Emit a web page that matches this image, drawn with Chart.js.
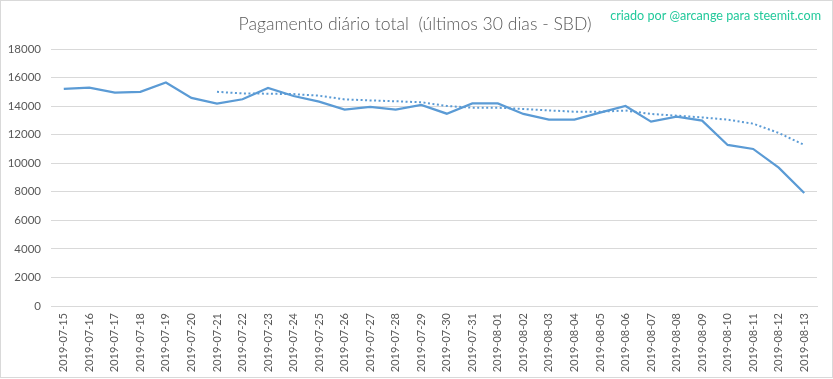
<!DOCTYPE html>
<html>
<head>
<meta charset="utf-8">
<script src="https://cdn.jsdelivr.net/npm/chart.js@4/dist/chart.umd.min.js"></script>
<style>
html,body{margin:0;padding:0;background:#fff;}
#wrap{position:relative;width:833px;height:379px;}
canvas{display:block;}
</style>
</head>
<body>
<div id="wrap"><canvas id="c" width="833" height="379"></canvas></div>
<script>
const categories = ["2019-07-15","2019-07-16","2019-07-17","2019-07-18","2019-07-19","2019-07-20","2019-07-21","2019-07-22","2019-07-23","2019-07-24","2019-07-25","2019-07-26","2019-07-27","2019-07-28","2019-07-29","2019-07-30","2019-07-31","2019-08-01","2019-08-02","2019-08-03","2019-08-04","2019-08-05","2019-08-06","2019-08-07","2019-08-08","2019-08-09","2019-08-10","2019-08-11","2019-08-12","2019-08-13"];
const dailyPayout = [15200,15300,14940,15000,15650,14570,14170,14480,15270,14710,14310,13750,13940,13750,14080,13470,14190,14190,13450,13050,13050,13540,14010,12910,13260,12980,11280,11000,9690,7910];
const movingAverage = [null,null,null,null,null,null,15000,14890,14870,14840,14730,14470,14400,14340,14270,14010,13890,13890,13800,13700,13610,13610,13690,13450,13330,13210,13050,12770,12120,11280];
const yTicks = [0,2000,4000,6000,8000,10000,12000,14000,16000,18000];
const titleText = "Pagamento diário total  (últimos 30 dias - SBD)";
const creditText = "criado por @arcange para steemit.com";

const textPlugin = {
  id: 'texts',
  afterDraw(chart) {
    const ctx = chart.ctx;
    ctx.save();
    ctx.fillStyle = '#595959';
    ctx.font = '300 17.6px Lato';
    ctx.textAlign = 'center';
    ctx.textBaseline = 'middle';
    ctx.fillText(titleText, 415, 24);
    ctx.fillStyle = '#22C99B';
    ctx.font = '12.6px Lato';
    ctx.textAlign = 'right';
    ctx.fillText(creditText, 821, 16);
    ctx.strokeStyle = '#D9D9D9';
    ctx.lineWidth = 1;
    ctx.strokeRect(0.5, 0.5, 832, 377);
    ctx.restore();
  }
};

new Chart(document.getElementById('c'), {
  type: 'line',
  data: {
    labels: categories,
    datasets: [
      {data: dailyPayout, borderColor: '#5B9BD5', borderWidth: 2.25, pointRadius: 0, tension: 0, fill: false},
      {data: movingAverage, borderColor: '#5B9BD5', borderWidth: 2, borderDash: [2, 2.5], pointRadius: 0, tension: 0, fill: false, spanGaps: false}
    ]
  },
  options: {
    responsive: false,
    animation: false,
    devicePixelRatio: 1,
    layout: {padding: {left: 0, right: 16, top: 49, bottom: 0}},
    plugins: {legend: {display: false}, title: {display: false}, tooltip: {enabled: false}},
    scales: {
      x: {
        offset: true,
        grid: {display: false, drawTicks: false},
        border: {display: true, color: '#D9D9D9'},
        ticks: {autoSkip: false, maxRotation: 90, minRotation: 90, padding: 7, color: '#595959', font: {family: 'Lato', size: 11}},
        afterFit(s) { s.height = 73; }
      },
      y: {
        min: 0, max: 18000,
        afterBuildTicks(s) { s.ticks = yTicks.map(v => ({value: v})); },
        grid: {color: '#D9D9D9', drawTicks: false},
        border: {display: false},
        ticks: {padding: 10, color: '#595959', font: {family: 'Lato', size: 11.5}, callback: v => String(v)},
        afterFit(s) { s.width = 51; }
      }
    }
  },
  plugins: [textPlugin]
});
</script>
</body>
</html>
